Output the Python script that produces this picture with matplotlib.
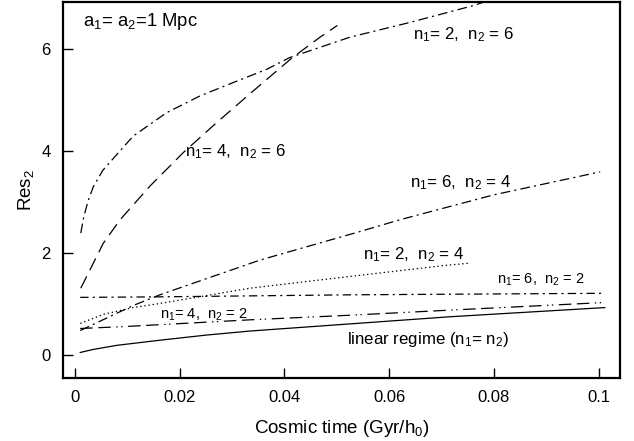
import matplotlib
matplotlib.use("Agg")
import matplotlib.pyplot as plt

plt.rcParams['font.family'] = ['Liberation Sans', 'DejaVu Sans']
plt.rcParams['mathtext.fontset'] = 'custom'
plt.rcParams['mathtext.rm'] = 'Liberation Sans'
plt.rcParams['mathtext.it'] = 'Liberation Sans'
plt.rcParams['lines.scale_dashes'] = False

# linear regime (n1 = n2)
t_lin = [0.001, 0.0035, 0.008, 0.0162, 0.025, 0.0334, 0.0525, 0.0716, 0.1012]
r_lin = [0.05, 0.11, 0.19, 0.29, 0.39, 0.47, 0.61, 0.75, 0.93]

# n1=4, n2=2
t_42 = [0.001, 0.0099, 0.0334, 0.0525, 0.0716, 0.1012]
r_42 = [0.52, 0.56, 0.69, 0.78, 0.88, 1.03]

# n1=6, n2=2
t_62 = [0.001, 0.0157, 0.0525, 0.1012]
r_62 = [1.13, 1.14, 1.18, 1.21]

# n1=2, n2=4
t_24 = [0.001, 0.0055, 0.0111, 0.0162, 0.0334, 0.0525, 0.071, 0.0753]
r_24 = [0.62, 0.80, 0.93, 1.01, 1.31, 1.54, 1.76, 1.80]

# n1=6, n2=4
t_64 = [0.001, 0.0111, 0.0162, 0.0353, 0.0544, 0.062, 0.08, 0.1003]
r_64 = [0.48, 0.97, 1.18, 1.86, 2.42, 2.65, 3.14, 3.59]

# n1=4, n2=6
t_46 = [0.0011, 0.0054, 0.0086, 0.0143, 0.0207, 0.0271, 0.0334, 0.0414, 0.0468, 0.0501]
r_46 = [1.31, 2.19, 2.65, 3.31, 3.97, 4.56, 5.12, 5.82, 6.23, 6.46]

# n1=2, n2=6
t_26 = [0.0011, 0.0017, 0.0025, 0.0035, 0.0053, 0.0111, 0.0175, 0.0239, 0.0302,
        0.0366, 0.041, 0.0525, 0.064, 0.0761, 0.079]
r_26 = [2.39, 2.72, 3.02, 3.30, 3.62, 4.29, 4.75, 5.08, 5.34,
        5.60, 5.83, 6.23, 6.52, 6.85, 6.95]

fig = plt.figure(figsize=(6.34, 4.41), dpi=100)
ax = fig.add_axes([0.0994, 0.1429, 0.8786, 0.8526])

lw = 0.9
ax.plot(t_lin, r_lin, color="black", lw=lw, ls="-")
ax.plot(t_42, r_42, color="black", lw=lw, ls=(0, (9, 4, 9, 4, 1, 2.5, 1, 4)))
ax.plot(t_62, r_62, color="black", lw=lw, ls=(0, (6, 3, 1.5, 3)))
ax.plot(t_24, r_24, color="black", lw=lw, ls=(0, (1, 2)))
ax.plot(t_64, r_64, color="black", lw=lw, ls=(0, (7, 3, 1.5, 3)))
ax.plot(t_46, r_46, color="black", lw=lw, ls=(0, (9.5, 5)))
ax.plot(t_26, r_26, color="black", lw=lw, ls=(0, (7, 3, 1.5, 3)))

ax.set_xlim(-0.00229, 0.1041)
ax.set_ylim(-0.45, 6.92)
ax.set_xticks([0, 0.02, 0.04, 0.06, 0.08, 0.1])
ax.set_xticklabels(["0", "0.02", "0.04", "0.06", "0.08", "0.1"])
ax.set_yticks([0, 2, 4, 6])
ax.tick_params(direction="in", length=7, width=1, labelsize=12, pad=9)
for s in ax.spines.values():
    s.set_linewidth(1.6)

ax.set_xlabel("Cosmic time (Gyr/h$_0$)", fontsize=13.5, labelpad=9)
ax.set_ylabel("Res$_2$", fontsize=13.5, labelpad=4)

big = 12.2
small = 10.5
ax.text(0.0015, 6.54, "a$_1$= a$_2$=1 Mpc", fontsize=13.3, va="center")
ax.text(0.021, 3.98, "n$_1$= 4,  n$_2$ = 6", fontsize=big, va="center")
ax.text(0.0646, 6.28, "n$_1$= 2,  n$_2$ = 6", fontsize=big, va="center")
ax.text(0.064, 3.37, "n$_1$= 6,  n$_2$ = 4", fontsize=big, va="center")
ax.text(0.055, 1.96, "n$_1$= 2,  n$_2$ = 4", fontsize=big, va="center")
ax.text(0.0806, 1.47, "n$_1$= 6,  n$_2$ = 2", fontsize=small, va="center")
ax.text(0.0162, 0.78, "n$_1$= 4,  n$_2$ = 2", fontsize=small, va="center")
ax.text(0.052, 0.31, "linear regime (n$_1$= n$_2$)", fontsize=big, va="center")

fig.savefig("out.png", dpi=100)
